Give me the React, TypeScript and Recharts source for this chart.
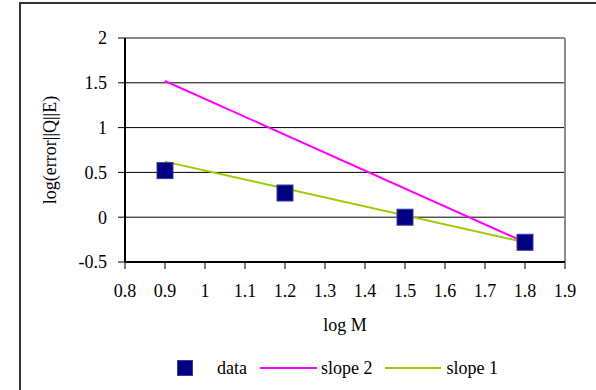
import { ComposedChart, Line, Scatter, XAxis, YAxis, CartesianGrid, ReferenceLine } from "recharts";

const logM = [0.9, 1.2, 1.5, 1.8];
const dataValues = [0.52, 0.27, 0.0, -0.28];
const slope2Ends = [1.52, -0.28];
const slope1Ends = [0.62, -0.28];
const lineX = [0.9, 1.8];
const xTicks = [0.8, 0.9, 1, 1.1, 1.2, 1.3, 1.4, 1.5, 1.6, 1.7, 1.8, 1.9];
const yTicks = [-0.5, 0, 0.5, 1, 1.5, 2];

const dataPts = logM.map((x, i) => ({ x, y: dataValues[i] }));
const slope2Pts = lineX.map((x, i) => ({ x, y: slope2Ends[i] }));
const slope1Pts = lineX.map((x, i) => ({ x, y: slope1Ends[i] }));

const FONT = '"Liberation Serif", "Times New Roman", serif';
const NAVY = "#000080";
const MAGENTA = "#ff00ff";
const GREEN = "#99cc00";

const Square = (props: any) => (
    <rect x={props.cx - 8} y={props.cy - 8} width={16} height={16} fill={NAVY} stroke="#3a3aa0" strokeWidth={1} />
);

export default function App() {
    return (
        <div style={{ position: "fixed", left: 0, top: 0, width: 596, height: 390, overflow: "hidden", background: "#fff", fontFamily: FONT }}>
            <style>{`.recharts-wrapper, .recharts-wrapper text, .recharts-text { font-family: ${FONT} !important; }`}</style>
            <div style={{ position: "absolute", left: 19, top: 2, width: 700, height: 500, borderLeft: "2px solid #333", borderTop: "2px solid #333" }} />
            <div style={{ position: "absolute", left: 0, top: 0 }}>
                <ComposedChart width={596} height={390} margin={{ top: 38, right: 31, bottom: 0, left: 0 }} style={{ fontFamily: FONT }}>
                    <CartesianGrid horizontal vertical={false} stroke="#000" strokeWidth={1} />
                    <XAxis
                        type="number"
                        dataKey="x"
                        domain={[0.8, 1.9]}
                        ticks={xTicks}
                        height={128}
                        tickSize={7}
                        tickMargin={15}
                        stroke="#000"
                        axisLine={{ strokeWidth: 2 }}
                        tick={{ fill: "#000", fontSize: 18 }}
                        label={(p: any) => (
                            <text x={p.viewBox.x + p.viewBox.width / 2} y={p.viewBox.y + 69} textAnchor="middle" fontSize={18} fill="#000">
                                log M
                            </text>
                        )}
                    />
                    <YAxis
                        type="number"
                        domain={[-0.5, 2]}
                        ticks={yTicks}
                        width={125}
                        tickSize={7}
                        tickMargin={11}
                        stroke="#000"
                        axisLine={{ strokeWidth: 2 }}
                        tick={{ fill: "#000", fontSize: 18 }}
                        label={(p: any) => (
                            <text
                                x={p.viewBox.x + 50}
                                y={p.viewBox.y + p.viewBox.height / 2}
                                transform={`rotate(-90, ${p.viewBox.x + 50}, ${p.viewBox.y + p.viewBox.height / 2})`}
                                textAnchor="middle"
                                dominantBaseline="central"
                                fontSize={18}
                                fill="#000"
                            >
                                log(error||Q||E)
                            </text>
                        )}
                    />
                    <ReferenceLine y={2} stroke="#8c8c8c" strokeWidth={2} />
                    <ReferenceLine x={1.9} stroke="#8c8c8c" strokeWidth={2} />
                    <Scatter data={dataPts} dataKey="y" shape={Square} isAnimationActive={false} />
                    <Line data={slope2Pts} dataKey="y" type="linear" stroke={MAGENTA} strokeWidth={2} dot={false} isAnimationActive={false} />
                    <Line data={slope1Pts} dataKey="y" type="linear" stroke={GREEN} strokeWidth={2} dot={false} isAnimationActive={false} />
                </ComposedChart>
            </div>
            <div style={{ position: "absolute", left: 177, top: 357, height: 22, display: "flex", alignItems: "center", fontSize: 18, color: "#000", whiteSpace: "nowrap" }}>
                <span style={{ width: 16, height: 16, background: NAVY, boxSizing: "border-box", border: "1px solid #3a3aa0", display: "inline-block" }} />
                <span style={{ marginLeft: 24 }}>data</span>
                <span style={{ marginLeft: 13, width: 57, height: 2, background: MAGENTA, display: "inline-block" }} />
                <span style={{ marginLeft: 4 }}>slope 2</span>
                <span style={{ marginLeft: 13, width: 56, height: 2, background: GREEN, display: "inline-block" }} />
                <span style={{ marginLeft: 5 }}>slope 1</span>
            </div>
        </div>
    );
}
